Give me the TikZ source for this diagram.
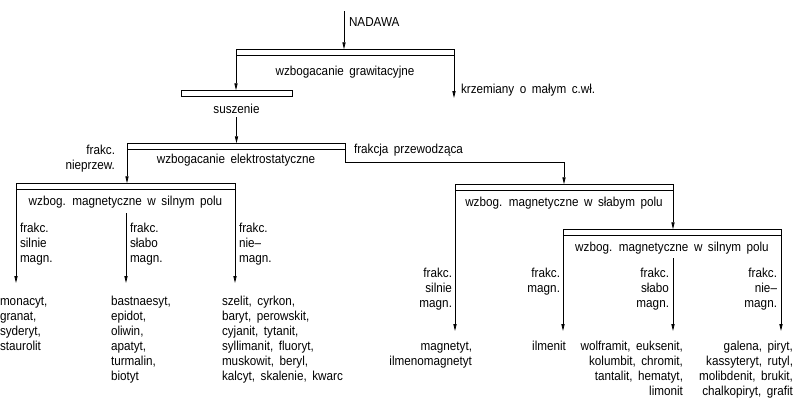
\documentclass[tikz,border=0pt]{standalone}
\usepackage{fontspec}
\setmainfont{Liberation Sans}[FakeStretch=0.9, WordSpace=1.7]
\usetikzlibrary{arrows.meta}
\newcommand\myst{\rule{0pt}{9.5pt}}
\begin{document}
\begin{tikzpicture}[x=1pt,y=-1pt,
  every node/.style={font=\fontsize{13}{15}\selectfont, inner sep=0pt, outer sep=0pt},
  bar/.style={draw, line width=0.9pt, minimum height=6.5pt, inner sep=0pt},
  conn/.style={line width=0.8pt},
  arr/.style={conn, -{Triangle[length=7pt,width=3.2pt]}},
  lbl/.style={align=left, anchor=north west},
  rlbl/.style={align=right, anchor=north east},
  txt/.style={anchor=base},
]
\useasboundingbox (0,0) rectangle (794,400);

% bars
\node[bar, minimum width=218pt] (b1) at (345,52.5) {};
\node[bar, minimum width=111pt] (b2) at (236.5,93.5) {};
\node[bar, minimum width=218pt] (b3) at (236,146.5) {};
\node[bar, minimum width=219pt] (b4) at (125.5,186.5) {};
\node[bar, minimum width=218pt] (b5) at (564,187.5) {};
\node[bar, minimum width=218pt] (b6) at (672,232.5) {};

% bar texts
\node[txt] (t1) at (345,75) {wzbogacanie grawitacyjne};
\node[txt] (t2) at (236.5,113) {suszenie};
\node[txt] (t3) at (236,163) {wzbogacanie elektrostatyczne};
\node[txt] (t4) at (125.5,205) {wzbog. magnetyczne w silnym polu};
\node[txt] (t5) at (564,206) {wzbog. magnetyczne w słabym polu};
\node[txt] (t6) at (672,251) {wzbog. magnetyczne w silnym polu};

% free ends
\coordinate (nad) at (344,11);
\coordinate (krz) at (454,98);
\coordinate (m2s) at (126,213);
\coordinate (r3s) at (673,258);

% top
\node[anchor=base west] (nadawa) at (349,26) {NADAWA};
\draw[arr] (nad) -- (nad |- b1.north);
\draw[arr] (b1.south west) -- (b1.south west |- b2.north);
\draw[arr] (b1.south east) -- (krz);
\node[anchor=base west] (krzt) at (461,93) {krzemiany o małym c.wł.};
\draw[arr] (t2.south |- 0,117) -- (t2.south |- b3.north);

% electrostatic
\draw[arr] (b3.south west) -- (b3.south west |- b4.north);
\node[rlbl] (nprz) at (115,144.5) {\myst frakc.\\nieprzew.};
\draw[arr] (b3.south east) -- ++(0,13) coordinate (bend) -| (b5.north);
\node[anchor=base west] (fprz) at (354,153) {frakcja przewodząca};

% left magnetic
\coordinate (e1) at (16,283);
\coordinate (e2) at (126,283);
\coordinate (e3) at (235,283);
\draw[arr] (b4.south west) -- (e1);
\draw[arr] (m2s) -- (e2);
\draw[arr] (b4.south east) -- (e3);
\node[lbl] (l1) at (20,222.5) {\myst frakc.\\silnie\\magn.};
\node[lbl] (l2) at (130,222.5) {\myst frakc.\\słabo\\magn.};
\node[lbl] (l3) at (239,222.5) {\myst frakc.\\nie–\\magn.};
\node[lbl] (m1) at (0,295.5) {\myst monacyt,\\granat,\\syderyt,\\staurolit};
\node[lbl] (m2) at (111,295.5) {\myst bastnaesyt,\\epidot,\\oliwin,\\apatyt,\\turmalin,\\biotyt};
\node[lbl] (m3) at (222,295.5) {\myst szelit, cyrkon,\\baryt, perowskit,\\cyjanit, tytanit,\\syllimanit, fluoryt,\\muskowit, beryl,\\kalcyt, skalenie, kwarc};

% right magnetic
\coordinate (f1) at (455,331);
\coordinate (f2) at (563,331);
\coordinate (f3) at (673,331);
\coordinate (f4) at (781,331);
\draw[arr] (b5.south west) -- (f1);
\draw[arr] (b5.south east) -- (b5.south east |- b6.north);
\draw[arr] (b6.south west) -- (f2);
\draw[arr] (r3s) -- (f3);
\draw[arr] (b6.south east) -- (f4);
\node[rlbl] (rl1) at (452,267.5) {\myst frakc.\\silnie\\magn.};
\node[rlbl] (rl2) at (560,267.5) {\myst frakc.\\magn.};
\node[rlbl] (rl3) at (669,267.5) {\myst frakc.\\słabo\\magn.};
\node[rlbl] (rl4) at (777,267.5) {\myst frakc.\\nie–\\magn.};
\node[rlbl] (rm1) at (472,340.5) {\myst magnetyt,\\ilmenomagnetyt};
\node[rlbl] (rm2) at (566,340.5) {\myst ilmenit};
\node[rlbl] (rm3) at (683,340.5) {\myst wolframit, euksenit,\\kolumbit, chromit,\\tantalit, hematyt,\\limonit};
\node[rlbl] (rm4) at (793,340.5) {\myst galena, piryt,\\kassyteryt, rutyl,\\molibdenit, brukit,\\chalkopiryt, grafit};
\end{tikzpicture}
\end{document}
